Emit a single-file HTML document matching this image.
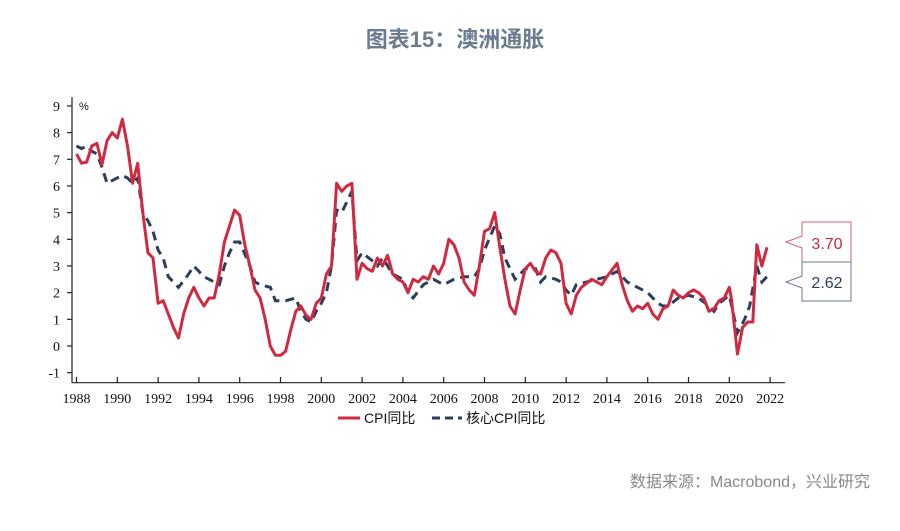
<!DOCTYPE html>
<html><head><meta charset="utf-8"><style>
body{margin:0;background:#fff;width:900px;height:526px;overflow:hidden;font-family:"Liberation Sans","Noto Sans CJK SC",sans-serif}
</style></head><body>
<svg id="s" width="900" height="526" viewBox="0 0 900 526" xmlns="http://www.w3.org/2000/svg">
<text x="455" y="47" text-anchor="middle" font-size="22" font-weight="bold" fill="#6b7b91" font-family="Liberation Sans,Noto Sans CJK SC,sans-serif">图表15：澳洲通胀</text>
<g id="ax" stroke="#222" stroke-width="1.2"></g>
<g id="lab" font-family="Liberation Serif,serif" font-size="14" fill="#111"></g>
<text x="79" y="110" font-size="11" fill="#111">%</text>
<polyline id="core" fill="none" stroke="#2c3e5e" stroke-width="3" stroke-dasharray="9,6"/>
<polyline id="cpi" fill="none" stroke="#d02a41" stroke-width="3" stroke-linejoin="round"/>
<line x1="338" y1="418" x2="360" y2="418" stroke="#d02a41" stroke-width="3"/>
<text x="364" y="423" font-size="14" fill="#111" font-family="Liberation Sans,Noto Sans CJK SC,sans-serif">CPI同比</text>
<line x1="432" y1="418" x2="462" y2="418" stroke="#2c3e5e" stroke-width="3" stroke-dasharray="8,5"/>
<text x="466" y="423" font-size="14" fill="#111" font-family="Liberation Sans,Noto Sans CJK SC,sans-serif">核心CPI同比</text>
<path d="M802,222 H851 V262 H802 V248 L786,242 L802,236 Z" fill="#fff" stroke="#d9606f" stroke-width="1"/>
<text x="827" y="249" text-anchor="middle" font-size="16" fill="#c8283e">3.70</text>
<path d="M802,262 H851 V301 H802 V288 L786,282 L802,276 Z" fill="#fff" stroke="#6a7890" stroke-width="1"/>
<text x="827" y="288" text-anchor="middle" font-size="16" fill="#2c3e5e">2.62</text>
<text x="870" y="487" text-anchor="end" font-size="16" fill="#888" font-family="Liberation Sans,Noto Sans CJK SC,sans-serif">数据来源：Macrobond，兴业研究</text>
</svg>
<script>
var X=function(y){return 76.5+(y-1988)*20.4},Y=function(v){return 346-v*26.67};
var ax=document.getElementById('ax'),lab=document.getElementById('lab'),h='',l='';
h+='<line x1="72" y1="97" x2="72" y2="383"/><line x1="72" y1="382.7" x2="785" y2="382.7"/>';
for(var v=-1;v<=9;v++){h+='<line x1="67" y1="'+Y(v)+'" x2="72" y2="'+Y(v)+'"/>';l+='<text x="60" y="'+(Y(v)+5)+'" text-anchor="end">'+v+'</text>';}
for(var y=1988;y<=2022;y+=2){h+='<line x1="'+X(y)+'" y1="377" x2="'+X(y)+'" y2="383"/>';l+='<text x="'+X(y)+'" y="403" text-anchor="middle">'+y+'</text>';}
ax.innerHTML=h;lab.innerHTML=l;
var cpi=[1988,7.2,1988.25,6.85,1988.5,6.9,1988.75,7.5,1989,7.6,1989.25,6.8,1989.5,7.7,1989.75,8.0,1990,7.8,1990.25,8.5,1990.5,7.5,1990.75,6.1,1991,6.85,1991.25,5.0,1991.5,3.5,1991.75,3.3,1992,1.6,1992.25,1.7,1992.5,1.2,1992.75,0.7,1993,0.3,1993.25,1.2,1993.5,1.8,1993.75,2.2,1994,1.8,1994.25,1.5,1994.5,1.8,1994.75,1.8,1995,2.7,1995.25,3.9,1995.5,4.5,1995.75,5.1,1996,4.9,1996.25,3.8,1996.5,3.0,1996.75,2.1,1997,1.8,1997.25,1.0,1997.5,0.0,1997.75,-0.35,1998,-0.35,1998.25,-0.2,1998.5,0.6,1998.75,1.3,1999,1.5,1999.25,1.15,1999.5,1.0,1999.75,1.6,2000,1.8,2000.25,2.7,2000.5,3.0,2000.75,6.1,2001,5.8,2001.25,6.0,2001.5,6.1,2001.75,2.5,2002,3.1,2002.25,2.9,2002.5,2.8,2002.75,3.3,2003,3.0,2003.25,3.4,2003.5,2.7,2003.75,2.5,2004,2.4,2004.25,2.0,2004.5,2.5,2004.75,2.4,2005,2.6,2005.25,2.5,2005.5,3.0,2005.75,2.7,2006,3.1,2006.25,4.0,2006.5,3.8,2006.75,3.3,2007,2.4,2007.25,2.1,2007.5,1.9,2007.75,3.0,2008,4.3,2008.25,4.4,2008.5,5.0,2008.75,3.7,2009,2.5,2009.25,1.5,2009.5,1.2,2009.75,2.1,2010,2.9,2010.25,3.1,2010.5,2.8,2010.75,2.7,2011,3.3,2011.25,3.6,2011.5,3.5,2011.75,3.1,2012,1.6,2012.25,1.2,2012.5,1.9,2012.75,2.2,2013.25,2.5,2013.75,2.3,2014,2.6,2014.5,3.1,2014.75,2.3,2015,1.7,2015.25,1.3,2015.5,1.5,2015.75,1.4,2016,1.6,2016.25,1.2,2016.5,1.0,2016.75,1.4,2017,1.5,2017.25,2.1,2017.5,1.9,2017.75,1.8,2018,2.0,2018.25,2.1,2018.5,2.0,2018.75,1.8,2019,1.3,2019.25,1.4,2019.5,1.7,2019.75,1.8,2020,2.2,2020.1,1.8,2020.4,-0.3,2020.65,0.7,2020.9,0.9,2021.15,0.9,2021.35,3.8,2021.6,3.0,2021.85,3.7];
var core=[1988,7.5,1988.25,7.4,1988.5,7.5,1988.75,7.3,1989,7.2,1989.25,6.7,1989.5,6.1,1989.75,6.2,1990.25,6.4,1990.5,6.3,1990.75,6.1,1991,6.3,1991.25,5.0,1991.5,4.7,1991.75,4.3,1992,3.6,1992.25,3.3,1992.5,2.6,1992.75,2.4,1993,2.2,1993.5,2.7,1993.75,3.0,1994,2.8,1994.25,2.6,1994.75,2.4,1995,2.3,1995.25,3.0,1995.5,3.5,1995.75,3.9,1996,3.9,1996.5,3.0,1996.75,2.4,1997,2.3,1997.5,2.2,1997.75,1.7,1998.25,1.7,1998.75,1.8,1999,1.3,1999.25,1.0,1999.5,0.9,1999.75,1.3,2000,1.6,2000.25,2.0,2000.5,3.0,2000.75,5.1,2001,5.0,2001.25,5.4,2001.5,5.8,2001.75,3.2,2002,3.5,2002.5,3.2,2002.75,3.0,2003,3.3,2003.5,2.7,2003.75,2.6,2004,2.5,2004.25,2.0,2004.5,1.8,2005,2.3,2005.5,2.5,2006,2.3,2006.5,2.5,2007,2.6,2007.5,2.6,2007.75,2.9,2008,3.6,2008.5,4.5,2008.75,4.2,2009,3.3,2009.5,2.5,2010,2.9,2010.5,2.9,2010.75,2.4,2011,2.6,2011.5,2.5,2011.75,2.4,2012,2.1,2012.25,1.9,2012.5,2.3,2013,2.4,2013.5,2.5,2014,2.6,2014.5,2.8,2015,2.4,2015.5,2.2,2016,2.0,2016.5,1.6,2016.75,1.5,2017,1.5,2017.5,1.8,2018,1.9,2018.5,1.8,2019,1.5,2019.25,1.3,2019.5,1.6,2020,1.9,2020.4,0.5,2020.75,1.0,2021,1.5,2021.35,3.0,2021.6,2.4,2021.85,2.6];
function pts(a){var s=[];for(var i=0;i<a.length;i+=2)s.push(X(a[i]).toFixed(1)+','+Y(a[i+1]).toFixed(1));return s.join(' ');}
document.getElementById('cpi').setAttribute('points',pts(cpi));
document.getElementById('core').setAttribute('points',pts(core));
</script>
</body></html>
